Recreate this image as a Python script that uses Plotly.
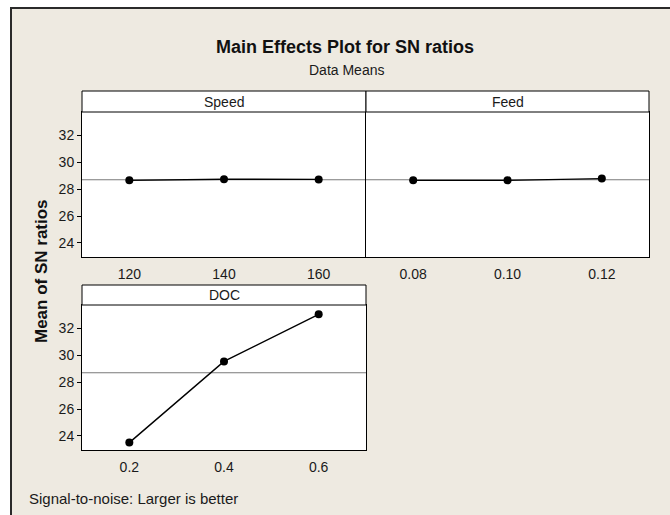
import plotly.graph_objects as go

# ---------------- data ----------------
factors = ["Speed", "Feed", "DOC"]
speed_levels = [120, 140, 160]
speed_sn = [28.66, 28.74, 28.73]
feed_levels = [0.08, 0.10, 0.12]
feed_sn = [28.66, 28.66, 28.79]
doc_levels = [0.2, 0.4, 0.6]
doc_sn = [23.50, 29.55, 33.06]
y_ticks = [24, 26, 28, 30, 32]
title_text = "Main Effects Plot for SN ratios"
subtitle_text = "Data Means"
y_title_text = "Mean of SN ratios"
footer_text = "Signal-to-noise: Larger is better"

all_sn = speed_sn + feed_sn + doc_sn
overall_mean = sum(all_sn) / len(all_sn)

# ---------------- layout helpers ----------------
W, H = 670, 515
def px(x):
    return x / W
def py(y):
    return 1 - y / H

FONT = "Liberation Sans, Arial, sans-serif"
BEIGE = "#EEEAE1"
TXT = "#1a1a1a"

# panels: (x0, x1, header_top, plot_top, plot_bottom)
panels = {
    "Speed": (82, 366, 91, 112, 257),
    "Feed": (366, 649, 91, 112, 257),
    "DOC": (82, 366, 285, 305, 450),
}
x_ranges = {"Speed": [110, 170], "Feed": [0.07, 0.13], "DOC": [0.1, 0.7]}
x_fmt = {"Speed": "d", "Feed": ".2f", "DOC": ".1f"}
y_range = [22.95, 33.75]
series = {
    "Speed": (speed_levels, speed_sn),
    "Feed": (feed_levels, feed_sn),
    "DOC": (doc_levels, doc_sn),
}
axis_ids = {"Speed": "", "Feed": "2", "DOC": "3"}

fig = go.Figure()
shapes = []
annotations = []

# outer beige frame
shapes.append(dict(type="rect", xref="paper", yref="paper",
                   x0=px(11), x1=px(W + 10), y0=py(H + 10), y1=py(8),
                   fillcolor=BEIGE, line=dict(color="#2a2a2a", width=2), layer="below"))

layout_axes = {}
for name in factors:
    x0, x1, ht, pt, pb = panels[name]
    aid = axis_ids[name]
    xs, ys = series[name]
    fig.add_trace(go.Scatter(
        x=xs, y=ys, mode="lines+markers",
        line=dict(color="black", width=1.4),
        marker=dict(color="black", size=8),
        xaxis="x" + aid, yaxis="y" + aid,
        showlegend=False, hoverinfo="x+y"))
    # white plot area
    shapes.append(dict(type="rect", xref="paper", yref="paper",
                       x0=px(x0), x1=px(x1), y0=py(pb), y1=py(pt),
                       fillcolor="white", line=dict(width=0), layer="below"))
    # header strip
    shapes.append(dict(type="rect", xref="paper", yref="paper",
                       x0=px(x0), x1=px(x1), y0=py(pt), y1=py(ht),
                       fillcolor="white", line=dict(color="black", width=1), layer="above"))
    annotations.append(dict(text=name, xref="paper", yref="paper",
                            x=px((x0 + x1) / 2), y=py((ht + pt) / 2),
                            xanchor="center", yanchor="middle", showarrow=False,
                            font=dict(family=FONT, size=14, color=TXT)))
    # overall mean reference line
    shapes.append(dict(type="line", xref="x" + aid + " domain", yref="y" + aid,
                       x0=0, x1=1, y0=overall_mean, y1=overall_mean,
                       line=dict(color="#7a7a7a", width=1.2), layer="below"))

    layout_axes["xaxis" + aid] = dict(
        domain=[px(x0), px(x1)], range=x_ranges[name],
        tickvals=xs, tickformat=x_fmt[name],
        showline=True, mirror=True, linecolor="black", linewidth=1,
        ticks="outside", ticklen=4, tickcolor="rgba(0,0,0,0)",
        showgrid=False, zeroline=False,
        tickfont=dict(family=FONT, size=14, color=TXT),
        anchor="y" + aid, fixedrange=True)
    show_y = name != "Feed"
    layout_axes["yaxis" + aid] = dict(
        domain=[py(pb), py(pt)], range=y_range,
        tickvals=y_ticks, showticklabels=show_y,
        ticks="outside" if show_y else "", ticklen=4, tickcolor="black", tickwidth=1,
        showline=True, mirror=(name != "Speed"), linecolor="black", linewidth=1,
        showgrid=False, zeroline=False,
        tickfont=dict(family=FONT, size=14, color=TXT),
        anchor="x" + aid, fixedrange=True)

# titles
annotations.append(dict(text="<b>" + title_text + "</b>", xref="paper", yref="paper",
                        x=px(345), y=py(47), xanchor="center", yanchor="middle",
                        showarrow=False, font=dict(family=FONT, size=18, color="#111")))
annotations.append(dict(text=subtitle_text, xref="paper", yref="paper",
                        x=px(346), y=py(70), xanchor="center", yanchor="middle",
                        showarrow=False, font=dict(family=FONT, size=14, color=TXT)))
annotations.append(dict(text="<b>" + y_title_text + "</b>", xref="paper", yref="paper",
                        x=px(41), y=py(271), xanchor="center", yanchor="middle",
                        textangle=-90, showarrow=False,
                        font=dict(family=FONT, size=17, color="#111")))
annotations.append(dict(text=footer_text, xref="paper", yref="paper",
                        x=px(27), y=py(498), xanchor="left", yanchor="middle",
                        showarrow=False, font=dict(family=FONT, size=15, color=TXT)))

fig.update_layout(
    width=W, height=H,
    margin=dict(l=0, r=0, t=0, b=0),
    paper_bgcolor="white", plot_bgcolor="white",
    shapes=shapes, annotations=annotations,
    showlegend=False, hovermode=False,
    **layout_axes)

fig.write_html("out.html",
               config={"displayModeBar": False, "staticPlot": True},
               post_script="document.body.style.margin='0';document.body.style.padding='0';")
